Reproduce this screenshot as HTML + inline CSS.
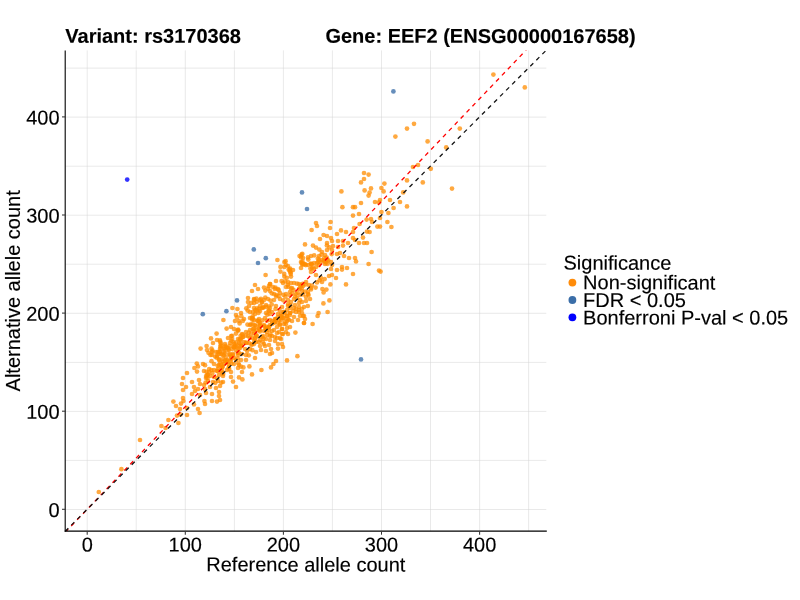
<!DOCTYPE html>
<html lang="en"><head><meta charset="utf-8"><title>Allelic imbalance: rs3170368 / EEF2</title>
<style>html,body{margin:0;padding:0;background:#fff;}body{width:800px;height:600px;overflow:hidden;}svg{display:block;}text{font-family:"Liberation Sans", Arial, Helvetica, sans-serif;font-size:20px;fill:#000;stroke:#000;stroke-width:0.15px;}.tk{fill:#000;}.b{font-weight:bold;}.g line{stroke:#d6d6d6;stroke-width:0.53;}.o circle{fill:#ff8c00;fill-opacity:0.75;}.s circle{fill:#3b6ea8;fill-opacity:0.78;}.bb circle{fill:#0000ff;fill-opacity:0.8;}</style></head><body>
<svg width="800" height="600" viewBox="0 0 800 600">
<rect width="800" height="600" fill="#fff"/>
<defs><clipPath id="pc"><rect x="65.3" y="50.4" width="481.0" height="480.9"/></clipPath></defs>
<g class="g">
<line x1="87.2" y1="50.4" x2="87.2" y2="531.3"/>
<line x1="65.3" y1="509.5" x2="546.3" y2="509.5"/>
<line x1="136.2" y1="50.4" x2="136.2" y2="531.3"/>
<line x1="65.3" y1="460.4" x2="546.3" y2="460.4"/>
<line x1="185.3" y1="50.4" x2="185.3" y2="531.3"/>
<line x1="65.3" y1="411.4" x2="546.3" y2="411.4"/>
<line x1="234.4" y1="50.4" x2="234.4" y2="531.3"/>
<line x1="65.3" y1="362.4" x2="546.3" y2="362.4"/>
<line x1="283.4" y1="50.4" x2="283.4" y2="531.3"/>
<line x1="65.3" y1="313.3" x2="546.3" y2="313.3"/>
<line x1="332.4" y1="50.4" x2="332.4" y2="531.3"/>
<line x1="65.3" y1="264.2" x2="546.3" y2="264.2"/>
<line x1="381.5" y1="50.4" x2="381.5" y2="531.3"/>
<line x1="65.3" y1="215.2" x2="546.3" y2="215.2"/>
<line x1="430.5" y1="50.4" x2="430.5" y2="531.3"/>
<line x1="65.3" y1="166.2" x2="546.3" y2="166.2"/>
<line x1="479.6" y1="50.4" x2="479.6" y2="531.3"/>
<line x1="65.3" y1="117.1" x2="546.3" y2="117.1"/>
<line x1="528.6" y1="50.4" x2="528.6" y2="531.3"/>
<line x1="65.3" y1="68.1" x2="546.3" y2="68.1"/>
</g>
<g clip-path="url(#pc)">
<g class="o">
<circle cx="493.4" cy="74.6" r="2.35"/>
<circle cx="524.8" cy="87.4" r="2.35"/>
<circle cx="414.0" cy="123.8" r="2.35"/>
<circle cx="407.0" cy="128.6" r="2.35"/>
<circle cx="395.4" cy="136.6" r="2.35"/>
<circle cx="427.6" cy="141.4" r="2.35"/>
<circle cx="459.8" cy="128.6" r="2.35"/>
<circle cx="446.2" cy="147.4" r="2.35"/>
<circle cx="255.0" cy="285.0" r="2.35"/>
<circle cx="270.0" cy="284.0" r="2.35"/>
<circle cx="276.0" cy="281.0" r="2.35"/>
<circle cx="283.0" cy="283.0" r="2.35"/>
<circle cx="288.0" cy="282.0" r="2.35"/>
<circle cx="294.0" cy="283.0" r="2.35"/>
<circle cx="299.0" cy="284.0" r="2.35"/>
<circle cx="306.0" cy="282.0" r="2.35"/>
<circle cx="273.0" cy="287.0" r="2.35"/>
<circle cx="278.0" cy="289.0" r="2.35"/>
<circle cx="286.0" cy="287.0" r="2.35"/>
<circle cx="292.0" cy="288.0" r="2.35"/>
<circle cx="299.0" cy="289.0" r="2.35"/>
<circle cx="252.0" cy="291.0" r="2.35"/>
<circle cx="258.0" cy="289.0" r="2.35"/>
<circle cx="264.0" cy="287.6" r="2.35"/>
<circle cx="270.0" cy="291.0" r="2.35"/>
<circle cx="274.0" cy="294.0" r="2.35"/>
<circle cx="280.0" cy="293.0" r="2.35"/>
<circle cx="286.0" cy="294.0" r="2.35"/>
<circle cx="290.0" cy="292.0" r="2.35"/>
<circle cx="296.0" cy="294.0" r="2.35"/>
<circle cx="302.0" cy="291.0" r="2.35"/>
<circle cx="308.0" cy="294.0" r="2.35"/>
<circle cx="248.0" cy="298.0" r="2.35"/>
<circle cx="254.0" cy="299.0" r="2.35"/>
<circle cx="260.0" cy="300.0" r="2.35"/>
<circle cx="248.0" cy="302.0" r="2.35"/>
<circle cx="254.0" cy="303.0" r="2.35"/>
<circle cx="262.0" cy="302.0" r="2.35"/>
<circle cx="268.0" cy="299.0" r="2.35"/>
<circle cx="274.0" cy="300.0" r="2.35"/>
<circle cx="280.0" cy="299.0" r="2.35"/>
<circle cx="288.0" cy="300.0" r="2.35"/>
<circle cx="294.0" cy="299.0" r="2.35"/>
<circle cx="300.0" cy="300.0" r="2.35"/>
<circle cx="306.0" cy="301.0" r="2.35"/>
<circle cx="232.4" cy="308.0" r="2.35"/>
<circle cx="237.4" cy="309.0" r="2.35"/>
<circle cx="249.0" cy="306.0" r="2.35"/>
<circle cx="254.0" cy="308.0" r="2.35"/>
<circle cx="260.0" cy="306.0" r="2.35"/>
<circle cx="266.0" cy="305.0" r="2.35"/>
<circle cx="270.0" cy="308.0" r="2.35"/>
<circle cx="276.0" cy="306.0" r="2.35"/>
<circle cx="282.0" cy="307.0" r="2.35"/>
<circle cx="288.0" cy="306.0" r="2.35"/>
<circle cx="294.0" cy="308.0" r="2.35"/>
<circle cx="299.0" cy="310.0" r="2.35"/>
<circle cx="304.0" cy="307.0" r="2.35"/>
<circle cx="236.0" cy="315.0" r="2.35"/>
<circle cx="241.0" cy="313.0" r="2.35"/>
<circle cx="250.0" cy="312.0" r="2.35"/>
<circle cx="255.0" cy="314.0" r="2.35"/>
<circle cx="260.0" cy="311.0" r="2.35"/>
<circle cx="266.0" cy="313.0" r="2.35"/>
<circle cx="272.0" cy="312.0" r="2.35"/>
<circle cx="278.0" cy="314.0" r="2.35"/>
<circle cx="283.0" cy="312.0" r="2.35"/>
<circle cx="290.0" cy="313.0" r="2.35"/>
<circle cx="296.0" cy="312.0" r="2.35"/>
<circle cx="302.0" cy="313.0" r="2.35"/>
<circle cx="304.0" cy="316.0" r="2.35"/>
<circle cx="223.4" cy="320.0" r="2.35"/>
<circle cx="235.0" cy="321.0" r="2.35"/>
<circle cx="239.0" cy="321.0" r="2.35"/>
<circle cx="244.0" cy="319.0" r="2.35"/>
<circle cx="250.0" cy="318.0" r="2.35"/>
<circle cx="254.0" cy="320.0" r="2.35"/>
<circle cx="259.0" cy="319.0" r="2.35"/>
<circle cx="265.0" cy="318.0" r="2.35"/>
<circle cx="270.0" cy="320.0" r="2.35"/>
<circle cx="276.0" cy="319.0" r="2.35"/>
<circle cx="281.0" cy="318.0" r="2.35"/>
<circle cx="288.0" cy="319.0" r="2.35"/>
<circle cx="292.0" cy="321.0" r="2.35"/>
<circle cx="298.0" cy="320.0" r="2.35"/>
<circle cx="304.0" cy="323.0" r="2.35"/>
<circle cx="231.0" cy="327.0" r="2.35"/>
<circle cx="226.6" cy="328.6" r="2.35"/>
<circle cx="234.0" cy="329.0" r="2.35"/>
<circle cx="250.0" cy="325.0" r="2.35"/>
<circle cx="255.0" cy="325.0" r="2.35"/>
<circle cx="260.0" cy="323.0" r="2.35"/>
<circle cx="264.0" cy="326.0" r="2.35"/>
<circle cx="270.0" cy="325.0" r="2.35"/>
<circle cx="274.0" cy="323.0" r="2.35"/>
<circle cx="280.0" cy="325.0" r="2.35"/>
<circle cx="286.0" cy="324.0" r="2.35"/>
<circle cx="290.0" cy="327.0" r="2.35"/>
<circle cx="282.0" cy="329.0" r="2.35"/>
<circle cx="216.6" cy="333.6" r="2.35"/>
<circle cx="236.0" cy="333.6" r="2.35"/>
<circle cx="242.0" cy="334.0" r="2.35"/>
<circle cx="246.0" cy="332.0" r="2.35"/>
<circle cx="250.0" cy="330.0" r="2.35"/>
<circle cx="254.0" cy="331.0" r="2.35"/>
<circle cx="259.0" cy="329.0" r="2.35"/>
<circle cx="264.0" cy="331.0" r="2.35"/>
<circle cx="269.0" cy="330.0" r="2.35"/>
<circle cx="274.0" cy="330.0" r="2.35"/>
<circle cx="279.0" cy="332.0" r="2.35"/>
<circle cx="283.0" cy="334.0" r="2.35"/>
<circle cx="288.0" cy="334.0" r="2.35"/>
<circle cx="295.4" cy="332.6" r="2.35"/>
<circle cx="211.0" cy="338.4" r="2.35"/>
<circle cx="217.0" cy="340.0" r="2.35"/>
<circle cx="220.0" cy="340.4" r="2.35"/>
<circle cx="228.0" cy="338.0" r="2.35"/>
<circle cx="232.0" cy="339.0" r="2.35"/>
<circle cx="238.0" cy="339.0" r="2.35"/>
<circle cx="243.0" cy="337.0" r="2.35"/>
<circle cx="248.0" cy="336.0" r="2.35"/>
<circle cx="252.0" cy="338.0" r="2.35"/>
<circle cx="257.0" cy="336.0" r="2.35"/>
<circle cx="262.0" cy="337.0" r="2.35"/>
<circle cx="267.0" cy="335.0" r="2.35"/>
<circle cx="272.0" cy="336.0" r="2.35"/>
<circle cx="277.0" cy="338.0" r="2.35"/>
<circle cx="281.0" cy="339.0" r="2.35"/>
<circle cx="270.0" cy="340.0" r="2.35"/>
<circle cx="213.0" cy="343.0" r="2.35"/>
<circle cx="206.6" cy="346.0" r="2.35"/>
<circle cx="225.0" cy="344.0" r="2.35"/>
<circle cx="230.0" cy="343.0" r="2.35"/>
<circle cx="234.0" cy="344.0" r="2.35"/>
<circle cx="239.0" cy="343.0" r="2.35"/>
<circle cx="244.0" cy="342.0" r="2.35"/>
<circle cx="249.0" cy="343.0" r="2.35"/>
<circle cx="254.0" cy="344.0" r="2.35"/>
<circle cx="259.0" cy="342.0" r="2.35"/>
<circle cx="264.0" cy="344.0" r="2.35"/>
<circle cx="269.0" cy="345.0" r="2.35"/>
<circle cx="275.0" cy="341.0" r="2.35"/>
<circle cx="278.0" cy="344.0" r="2.35"/>
<circle cx="282.0" cy="344.0" r="2.35"/>
<circle cx="283.0" cy="347.0" r="2.35"/>
<circle cx="265.0" cy="346.0" r="2.35"/>
<circle cx="260.0" cy="346.0" r="2.35"/>
<circle cx="200.6" cy="348.6" r="2.35"/>
<circle cx="207.0" cy="350.0" r="2.35"/>
<circle cx="212.0" cy="352.0" r="2.35"/>
<circle cx="216.0" cy="352.0" r="2.35"/>
<circle cx="220.0" cy="349.0" r="2.35"/>
<circle cx="224.0" cy="349.0" r="2.35"/>
<circle cx="228.0" cy="348.0" r="2.35"/>
<circle cx="232.0" cy="349.0" r="2.35"/>
<circle cx="236.0" cy="350.0" r="2.35"/>
<circle cx="240.0" cy="348.0" r="2.35"/>
<circle cx="245.0" cy="349.0" r="2.35"/>
<circle cx="250.0" cy="349.0" r="2.35"/>
<circle cx="256.0" cy="352.0" r="2.35"/>
<circle cx="261.0" cy="350.0" r="2.35"/>
<circle cx="266.0" cy="351.0" r="2.35"/>
<circle cx="271.0" cy="349.0" r="2.35"/>
<circle cx="272.0" cy="353.0" r="2.35"/>
<circle cx="278.0" cy="348.6" r="2.35"/>
<circle cx="212.0" cy="355.0" r="2.35"/>
<circle cx="217.0" cy="356.0" r="2.35"/>
<circle cx="221.0" cy="354.0" r="2.35"/>
<circle cx="225.0" cy="353.0" r="2.35"/>
<circle cx="229.0" cy="354.0" r="2.35"/>
<circle cx="233.0" cy="355.0" r="2.35"/>
<circle cx="238.0" cy="355.0" r="2.35"/>
<circle cx="242.0" cy="354.0" r="2.35"/>
<circle cx="246.0" cy="355.0" r="2.35"/>
<circle cx="255.0" cy="358.0" r="2.35"/>
<circle cx="297.4" cy="356.2" r="2.35"/>
<circle cx="270.0" cy="354.0" r="2.35"/>
<circle cx="219.0" cy="360.0" r="2.35"/>
<circle cx="223.0" cy="359.0" r="2.35"/>
<circle cx="227.0" cy="360.0" r="2.35"/>
<circle cx="231.0" cy="359.0" r="2.35"/>
<circle cx="236.0" cy="360.0" r="2.35"/>
<circle cx="241.0" cy="360.0" r="2.35"/>
<circle cx="246.0" cy="360.0" r="2.35"/>
<circle cx="287.0" cy="360.4" r="2.35"/>
<circle cx="276.0" cy="361.0" r="2.35"/>
<circle cx="273.4" cy="364.0" r="2.35"/>
<circle cx="271.0" cy="367.4" r="2.35"/>
<circle cx="203.0" cy="364.0" r="2.35"/>
<circle cx="198.0" cy="366.4" r="2.35"/>
<circle cx="194.4" cy="368.0" r="2.35"/>
<circle cx="197.0" cy="371.6" r="2.35"/>
<circle cx="214.0" cy="364.0" r="2.35"/>
<circle cx="219.0" cy="365.0" r="2.35"/>
<circle cx="224.0" cy="364.0" r="2.35"/>
<circle cx="229.0" cy="365.0" r="2.35"/>
<circle cx="234.0" cy="364.0" r="2.35"/>
<circle cx="239.0" cy="365.0" r="2.35"/>
<circle cx="238.0" cy="368.0" r="2.35"/>
<circle cx="243.4" cy="367.4" r="2.35"/>
<circle cx="249.4" cy="366.4" r="2.35"/>
<circle cx="261.4" cy="370.0" r="2.35"/>
<circle cx="187.0" cy="373.0" r="2.35"/>
<circle cx="204.0" cy="371.0" r="2.35"/>
<circle cx="209.0" cy="372.0" r="2.35"/>
<circle cx="214.0" cy="370.0" r="2.35"/>
<circle cx="218.0" cy="369.0" r="2.35"/>
<circle cx="222.0" cy="371.0" r="2.35"/>
<circle cx="227.0" cy="370.0" r="2.35"/>
<circle cx="231.0" cy="372.0" r="2.35"/>
<circle cx="242.0" cy="372.0" r="2.35"/>
<circle cx="252.0" cy="374.4" r="2.35"/>
<circle cx="183.0" cy="378.0" r="2.35"/>
<circle cx="199.0" cy="380.0" r="2.35"/>
<circle cx="206.0" cy="378.0" r="2.35"/>
<circle cx="210.0" cy="376.0" r="2.35"/>
<circle cx="214.0" cy="377.0" r="2.35"/>
<circle cx="219.0" cy="375.0" r="2.35"/>
<circle cx="223.0" cy="376.0" r="2.35"/>
<circle cx="231.0" cy="377.0" r="2.35"/>
<circle cx="239.0" cy="377.4" r="2.35"/>
<circle cx="242.4" cy="379.4" r="2.35"/>
<circle cx="182.0" cy="384.0" r="2.35"/>
<circle cx="192.0" cy="382.0" r="2.35"/>
<circle cx="194.0" cy="387.0" r="2.35"/>
<circle cx="186.0" cy="387.0" r="2.35"/>
<circle cx="200.0" cy="384.0" r="2.35"/>
<circle cx="204.0" cy="385.0" r="2.35"/>
<circle cx="208.0" cy="381.0" r="2.35"/>
<circle cx="213.0" cy="382.0" r="2.35"/>
<circle cx="218.0" cy="381.0" r="2.35"/>
<circle cx="223.0" cy="382.0" r="2.35"/>
<circle cx="233.0" cy="381.6" r="2.35"/>
<circle cx="236.0" cy="387.0" r="2.35"/>
<circle cx="183.0" cy="390.0" r="2.35"/>
<circle cx="195.0" cy="391.0" r="2.35"/>
<circle cx="198.0" cy="389.0" r="2.35"/>
<circle cx="205.0" cy="389.0" r="2.35"/>
<circle cx="210.0" cy="387.0" r="2.35"/>
<circle cx="216.0" cy="388.0" r="2.35"/>
<circle cx="220.0" cy="386.0" r="2.35"/>
<circle cx="219.0" cy="392.0" r="2.35"/>
<circle cx="183.0" cy="398.0" r="2.35"/>
<circle cx="192.0" cy="394.0" r="2.35"/>
<circle cx="200.0" cy="395.0" r="2.35"/>
<circle cx="206.0" cy="393.0" r="2.35"/>
<circle cx="212.0" cy="394.0" r="2.35"/>
<circle cx="219.0" cy="396.0" r="2.35"/>
<circle cx="452.0" cy="188.6" r="2.35"/>
<circle cx="430.8" cy="168.8" r="2.35"/>
<circle cx="422.8" cy="182.4" r="2.35"/>
<circle cx="418.0" cy="165.0" r="2.35"/>
<circle cx="413.0" cy="167.0" r="2.35"/>
<circle cx="407.0" cy="180.4" r="2.35"/>
<circle cx="403.2" cy="192.4" r="2.35"/>
<circle cx="400.0" cy="202.0" r="2.35"/>
<circle cx="407.0" cy="206.4" r="2.35"/>
<circle cx="393.6" cy="208.0" r="2.35"/>
<circle cx="390.0" cy="200.0" r="2.35"/>
<circle cx="384.4" cy="183.6" r="2.35"/>
<circle cx="381.4" cy="188.0" r="2.35"/>
<circle cx="383.6" cy="191.4" r="2.35"/>
<circle cx="380.0" cy="200.0" r="2.35"/>
<circle cx="375.0" cy="202.0" r="2.35"/>
<circle cx="379.0" cy="202.4" r="2.35"/>
<circle cx="388.4" cy="213.0" r="2.35"/>
<circle cx="381.4" cy="212.0" r="2.35"/>
<circle cx="380.0" cy="218.0" r="2.35"/>
<circle cx="387.4" cy="222.0" r="2.35"/>
<circle cx="391.4" cy="227.0" r="2.35"/>
<circle cx="380.0" cy="226.6" r="2.35"/>
<circle cx="377.4" cy="226.6" r="2.35"/>
<circle cx="371.0" cy="219.0" r="2.35"/>
<circle cx="366.6" cy="219.6" r="2.35"/>
<circle cx="372.0" cy="222.0" r="2.35"/>
<circle cx="364.0" cy="173.0" r="2.35"/>
<circle cx="368.6" cy="174.6" r="2.35"/>
<circle cx="364.0" cy="179.0" r="2.35"/>
<circle cx="361.0" cy="182.4" r="2.35"/>
<circle cx="371.0" cy="188.4" r="2.35"/>
<circle cx="364.6" cy="190.4" r="2.35"/>
<circle cx="369.6" cy="192.6" r="2.35"/>
<circle cx="368.6" cy="195.6" r="2.35"/>
<circle cx="361.0" cy="203.0" r="2.35"/>
<circle cx="341.4" cy="191.4" r="2.35"/>
<circle cx="342.4" cy="207.2" r="2.35"/>
<circle cx="353.0" cy="207.2" r="2.35"/>
<circle cx="355.0" cy="207.2" r="2.35"/>
<circle cx="359.0" cy="214.0" r="2.35"/>
<circle cx="353.0" cy="215.6" r="2.35"/>
<circle cx="330.6" cy="222.0" r="2.35"/>
<circle cx="316.0" cy="223.0" r="2.35"/>
<circle cx="317.0" cy="226.0" r="2.35"/>
<circle cx="330.0" cy="228.0" r="2.35"/>
<circle cx="311.6" cy="230.0" r="2.35"/>
<circle cx="341.0" cy="230.4" r="2.35"/>
<circle cx="346.0" cy="232.0" r="2.35"/>
<circle cx="337.0" cy="234.0" r="2.35"/>
<circle cx="354.0" cy="228.0" r="2.35"/>
<circle cx="359.6" cy="224.0" r="2.35"/>
<circle cx="353.0" cy="232.0" r="2.35"/>
<circle cx="369.6" cy="232.0" r="2.35"/>
<circle cx="367.0" cy="231.6" r="2.35"/>
<circle cx="323.6" cy="235.0" r="2.35"/>
<circle cx="327.0" cy="236.0" r="2.35"/>
<circle cx="331.0" cy="238.0" r="2.35"/>
<circle cx="320.0" cy="239.0" r="2.35"/>
<circle cx="353.0" cy="238.0" r="2.35"/>
<circle cx="355.0" cy="240.0" r="2.35"/>
<circle cx="363.0" cy="237.6" r="2.35"/>
<circle cx="359.0" cy="243.0" r="2.35"/>
<circle cx="364.0" cy="243.0" r="2.35"/>
<circle cx="367.0" cy="243.0" r="2.35"/>
<circle cx="332.0" cy="241.0" r="2.35"/>
<circle cx="338.0" cy="241.0" r="2.35"/>
<circle cx="343.0" cy="241.0" r="2.35"/>
<circle cx="348.0" cy="243.0" r="2.35"/>
<circle cx="327.0" cy="243.0" r="2.35"/>
<circle cx="313.0" cy="245.6" r="2.35"/>
<circle cx="316.0" cy="247.6" r="2.35"/>
<circle cx="333.0" cy="246.0" r="2.35"/>
<circle cx="338.0" cy="247.0" r="2.35"/>
<circle cx="343.0" cy="245.6" r="2.35"/>
<circle cx="327.0" cy="250.0" r="2.35"/>
<circle cx="322.0" cy="252.0" r="2.35"/>
<circle cx="325.0" cy="255.0" r="2.35"/>
<circle cx="332.0" cy="250.0" r="2.35"/>
<circle cx="337.0" cy="254.0" r="2.35"/>
<circle cx="340.0" cy="253.0" r="2.35"/>
<circle cx="344.0" cy="256.0" r="2.35"/>
<circle cx="349.0" cy="258.0" r="2.35"/>
<circle cx="355.0" cy="258.0" r="2.35"/>
<circle cx="356.0" cy="261.4" r="2.35"/>
<circle cx="371.6" cy="252.0" r="2.35"/>
<circle cx="368.6" cy="264.0" r="2.35"/>
<circle cx="379.0" cy="270.6" r="2.35"/>
<circle cx="380.6" cy="271.6" r="2.35"/>
<circle cx="311.0" cy="256.0" r="2.35"/>
<circle cx="319.0" cy="256.0" r="2.35"/>
<circle cx="314.0" cy="263.0" r="2.35"/>
<circle cx="318.0" cy="262.0" r="2.35"/>
<circle cx="322.0" cy="260.0" r="2.35"/>
<circle cx="327.0" cy="260.0" r="2.35"/>
<circle cx="331.0" cy="262.0" r="2.35"/>
<circle cx="312.0" cy="268.0" r="2.35"/>
<circle cx="316.0" cy="267.0" r="2.35"/>
<circle cx="325.0" cy="264.0" r="2.35"/>
<circle cx="332.0" cy="265.0" r="2.35"/>
<circle cx="337.0" cy="270.0" r="2.35"/>
<circle cx="342.0" cy="267.0" r="2.35"/>
<circle cx="342.0" cy="269.6" r="2.35"/>
<circle cx="347.0" cy="268.0" r="2.35"/>
<circle cx="353.0" cy="274.0" r="2.35"/>
<circle cx="311.0" cy="272.0" r="2.35"/>
<circle cx="316.0" cy="275.0" r="2.35"/>
<circle cx="321.0" cy="278.0" r="2.35"/>
<circle cx="329.0" cy="276.0" r="2.35"/>
<circle cx="332.0" cy="275.0" r="2.35"/>
<circle cx="336.0" cy="278.0" r="2.35"/>
<circle cx="331.0" cy="269.0" r="2.35"/>
<circle cx="346.0" cy="284.4" r="2.35"/>
<circle cx="330.4" cy="284.4" r="2.35"/>
<circle cx="322.0" cy="282.0" r="2.35"/>
<circle cx="317.0" cy="282.4" r="2.35"/>
<circle cx="311.0" cy="288.0" r="2.35"/>
<circle cx="315.6" cy="287.6" r="2.35"/>
<circle cx="322.4" cy="289.0" r="2.35"/>
<circle cx="326.4" cy="289.6" r="2.35"/>
<circle cx="323.6" cy="292.4" r="2.35"/>
<circle cx="329.4" cy="300.4" r="2.35"/>
<circle cx="323.4" cy="303.4" r="2.35"/>
<circle cx="310.0" cy="299.0" r="2.35"/>
<circle cx="327.6" cy="312.0" r="2.35"/>
<circle cx="318.6" cy="313.0" r="2.35"/>
<circle cx="317.6" cy="316.0" r="2.35"/>
<circle cx="312.6" cy="324.0" r="2.35"/>
<circle cx="305.0" cy="244.4" r="2.35"/>
<circle cx="277.4" cy="260.0" r="2.35"/>
<circle cx="284.4" cy="262.0" r="2.35"/>
<circle cx="286.0" cy="265.0" r="2.35"/>
<circle cx="288.0" cy="266.0" r="2.35"/>
<circle cx="284.4" cy="267.0" r="2.35"/>
<circle cx="301.0" cy="257.4" r="2.35"/>
<circle cx="303.0" cy="258.0" r="2.35"/>
<circle cx="308.0" cy="257.4" r="2.35"/>
<circle cx="301.0" cy="262.0" r="2.35"/>
<circle cx="305.0" cy="264.0" r="2.35"/>
<circle cx="308.0" cy="265.0" r="2.35"/>
<circle cx="301.0" cy="268.0" r="2.35"/>
<circle cx="293.0" cy="270.0" r="2.35"/>
<circle cx="290.0" cy="271.6" r="2.35"/>
<circle cx="280.4" cy="271.6" r="2.35"/>
<circle cx="265.6" cy="275.0" r="2.35"/>
<circle cx="284.4" cy="276.6" r="2.35"/>
<circle cx="291.0" cy="276.6" r="2.35"/>
<circle cx="98.8" cy="492.0" r="2.35"/>
<circle cx="121.4" cy="469.2" r="2.35"/>
<circle cx="140.0" cy="440.0" r="2.35"/>
<circle cx="161.4" cy="426.0" r="2.35"/>
<circle cx="165.6" cy="428.0" r="2.35"/>
<circle cx="168.4" cy="420.0" r="2.35"/>
<circle cx="178.4" cy="423.0" r="2.35"/>
<circle cx="177.0" cy="415.6" r="2.35"/>
<circle cx="180.6" cy="414.6" r="2.35"/>
<circle cx="187.0" cy="415.0" r="2.35"/>
<circle cx="199.6" cy="413.0" r="2.35"/>
<circle cx="198.0" cy="409.0" r="2.35"/>
<circle cx="194.0" cy="404.4" r="2.35"/>
<circle cx="187.0" cy="408.0" r="2.35"/>
<circle cx="180.0" cy="409.0" r="2.35"/>
<circle cx="176.0" cy="406.0" r="2.35"/>
<circle cx="173.4" cy="401.6" r="2.35"/>
<circle cx="181.0" cy="403.6" r="2.35"/>
<circle cx="183.4" cy="401.0" r="2.35"/>
<circle cx="205.0" cy="404.0" r="2.35"/>
<circle cx="204.4" cy="401.0" r="2.35"/>
<circle cx="212.0" cy="401.0" r="2.35"/>
<circle cx="217.0" cy="401.6" r="2.35"/>
<circle cx="220.0" cy="400.0" r="2.35"/>
<circle cx="268.9" cy="286.2" r="2.35"/>
<circle cx="281.6" cy="281.1" r="2.35"/>
<circle cx="285.1" cy="281.3" r="2.35"/>
<circle cx="291.0" cy="283.1" r="2.35"/>
<circle cx="297.0" cy="283.7" r="2.35"/>
<circle cx="301.2" cy="285.0" r="2.35"/>
<circle cx="302.6" cy="283.8" r="2.35"/>
<circle cx="274.9" cy="288.9" r="2.35"/>
<circle cx="270.1" cy="284.1" r="2.35"/>
<circle cx="275.4" cy="287.6" r="2.35"/>
<circle cx="288.3" cy="286.7" r="2.35"/>
<circle cx="287.8" cy="284.8" r="2.35"/>
<circle cx="293.5" cy="289.9" r="2.35"/>
<circle cx="297.6" cy="292.6" r="2.35"/>
<circle cx="265.4" cy="290.6" r="2.35"/>
<circle cx="268.1" cy="288.7" r="2.35"/>
<circle cx="271.8" cy="293.3" r="2.35"/>
<circle cx="276.4" cy="295.0" r="2.35"/>
<circle cx="278.7" cy="290.2" r="2.35"/>
<circle cx="278.7" cy="296.1" r="2.35"/>
<circle cx="283.3" cy="294.8" r="2.35"/>
<circle cx="291.0" cy="288.5" r="2.35"/>
<circle cx="290.1" cy="295.3" r="2.35"/>
<circle cx="292.1" cy="293.4" r="2.35"/>
<circle cx="301.6" cy="288.2" r="2.35"/>
<circle cx="256.4" cy="298.7" r="2.35"/>
<circle cx="256.8" cy="301.8" r="2.35"/>
<circle cx="261.8" cy="302.6" r="2.35"/>
<circle cx="251.4" cy="302.9" r="2.35"/>
<circle cx="254.3" cy="299.7" r="2.35"/>
<circle cx="264.0" cy="300.0" r="2.35"/>
<circle cx="260.9" cy="298.8" r="2.35"/>
<circle cx="265.3" cy="297.5" r="2.35"/>
<circle cx="276.2" cy="296.5" r="2.35"/>
<circle cx="270.5" cy="300.6" r="2.35"/>
<circle cx="283.3" cy="300.3" r="2.35"/>
<circle cx="285.5" cy="296.7" r="2.35"/>
<circle cx="295.2" cy="296.5" r="2.35"/>
<circle cx="246.3" cy="308.3" r="2.35"/>
<circle cx="257.1" cy="308.4" r="2.35"/>
<circle cx="255.2" cy="310.1" r="2.35"/>
<circle cx="263.5" cy="307.4" r="2.35"/>
<circle cx="261.9" cy="308.0" r="2.35"/>
<circle cx="262.9" cy="307.5" r="2.35"/>
<circle cx="268.7" cy="306.5" r="2.35"/>
<circle cx="266.2" cy="306.8" r="2.35"/>
<circle cx="271.7" cy="304.4" r="2.35"/>
<circle cx="275.5" cy="309.0" r="2.35"/>
<circle cx="279.5" cy="310.1" r="2.35"/>
<circle cx="290.4" cy="305.3" r="2.35"/>
<circle cx="237.2" cy="317.4" r="2.35"/>
<circle cx="241.3" cy="316.2" r="2.35"/>
<circle cx="247.7" cy="310.6" r="2.35"/>
<circle cx="253.0" cy="312.1" r="2.35"/>
<circle cx="252.7" cy="316.4" r="2.35"/>
<circle cx="258.4" cy="313.0" r="2.35"/>
<circle cx="256.6" cy="310.7" r="2.35"/>
<circle cx="259.0" cy="308.9" r="2.35"/>
<circle cx="269.0" cy="310.8" r="2.35"/>
<circle cx="268.7" cy="310.3" r="2.35"/>
<circle cx="269.7" cy="313.9" r="2.35"/>
<circle cx="280.8" cy="316.1" r="2.35"/>
<circle cx="285.2" cy="312.9" r="2.35"/>
<circle cx="239.6" cy="323.4" r="2.35"/>
<circle cx="242.8" cy="320.9" r="2.35"/>
<circle cx="252.5" cy="318.0" r="2.35"/>
<circle cx="252.4" cy="319.7" r="2.35"/>
<circle cx="257.9" cy="320.6" r="2.35"/>
<circle cx="252.1" cy="318.4" r="2.35"/>
<circle cx="259.0" cy="321.9" r="2.35"/>
<circle cx="257.4" cy="320.8" r="2.35"/>
<circle cx="267.4" cy="314.6" r="2.35"/>
<circle cx="266.9" cy="320.7" r="2.35"/>
<circle cx="272.1" cy="321.2" r="2.35"/>
<circle cx="274.5" cy="321.3" r="2.35"/>
<circle cx="282.2" cy="315.8" r="2.35"/>
<circle cx="238.1" cy="329.6" r="2.35"/>
<circle cx="247.5" cy="324.6" r="2.35"/>
<circle cx="252.8" cy="324.4" r="2.35"/>
<circle cx="250.9" cy="324.3" r="2.35"/>
<circle cx="262.3" cy="320.3" r="2.35"/>
<circle cx="259.8" cy="325.9" r="2.35"/>
<circle cx="265.9" cy="329.2" r="2.35"/>
<circle cx="260.3" cy="325.2" r="2.35"/>
<circle cx="268.7" cy="327.3" r="2.35"/>
<circle cx="275.6" cy="319.1" r="2.35"/>
<circle cx="238.3" cy="330.6" r="2.35"/>
<circle cx="237.5" cy="330.3" r="2.35"/>
<circle cx="242.5" cy="337.2" r="2.35"/>
<circle cx="240.6" cy="335.8" r="2.35"/>
<circle cx="248.7" cy="332.5" r="2.35"/>
<circle cx="245.8" cy="335.6" r="2.35"/>
<circle cx="253.0" cy="329.2" r="2.35"/>
<circle cx="253.9" cy="328.4" r="2.35"/>
<circle cx="256.8" cy="330.2" r="2.35"/>
<circle cx="254.5" cy="333.6" r="2.35"/>
<circle cx="259.9" cy="331.5" r="2.35"/>
<circle cx="256.2" cy="326.2" r="2.35"/>
<circle cx="265.7" cy="328.3" r="2.35"/>
<circle cx="266.8" cy="326.9" r="2.35"/>
<circle cx="220.0" cy="341.8" r="2.35"/>
<circle cx="231.2" cy="336.0" r="2.35"/>
<circle cx="232.0" cy="335.8" r="2.35"/>
<circle cx="233.6" cy="342.4" r="2.35"/>
<circle cx="236.1" cy="342.3" r="2.35"/>
<circle cx="240.9" cy="338.5" r="2.35"/>
<circle cx="239.7" cy="339.4" r="2.35"/>
<circle cx="242.6" cy="334.5" r="2.35"/>
<circle cx="249.7" cy="337.8" r="2.35"/>
<circle cx="251.2" cy="333.9" r="2.35"/>
<circle cx="254.3" cy="341.1" r="2.35"/>
<circle cx="255.5" cy="337.6" r="2.35"/>
<circle cx="255.1" cy="338.7" r="2.35"/>
<circle cx="263.5" cy="338.6" r="2.35"/>
<circle cx="270.4" cy="334.4" r="2.35"/>
<circle cx="221.0" cy="343.3" r="2.35"/>
<circle cx="221.4" cy="345.6" r="2.35"/>
<circle cx="231.2" cy="340.7" r="2.35"/>
<circle cx="230.0" cy="345.8" r="2.35"/>
<circle cx="234.2" cy="347.4" r="2.35"/>
<circle cx="233.8" cy="347.0" r="2.35"/>
<circle cx="241.7" cy="345.9" r="2.35"/>
<circle cx="237.1" cy="345.5" r="2.35"/>
<circle cx="240.5" cy="340.0" r="2.35"/>
<circle cx="240.5" cy="343.9" r="2.35"/>
<circle cx="245.7" cy="343.0" r="2.35"/>
<circle cx="246.8" cy="342.7" r="2.35"/>
<circle cx="251.6" cy="344.9" r="2.35"/>
<circle cx="262.8" cy="342.1" r="2.35"/>
<circle cx="208.5" cy="352.8" r="2.35"/>
<circle cx="211.5" cy="348.7" r="2.35"/>
<circle cx="210.5" cy="354.9" r="2.35"/>
<circle cx="212.5" cy="350.7" r="2.35"/>
<circle cx="218.6" cy="354.1" r="2.35"/>
<circle cx="220.0" cy="351.8" r="2.35"/>
<circle cx="220.4" cy="345.8" r="2.35"/>
<circle cx="220.6" cy="347.6" r="2.35"/>
<circle cx="226.6" cy="347.4" r="2.35"/>
<circle cx="225.6" cy="345.9" r="2.35"/>
<circle cx="224.4" cy="347.7" r="2.35"/>
<circle cx="228.9" cy="350.0" r="2.35"/>
<circle cx="228.0" cy="349.6" r="2.35"/>
<circle cx="234.8" cy="346.2" r="2.35"/>
<circle cx="238.5" cy="349.0" r="2.35"/>
<circle cx="236.2" cy="346.5" r="2.35"/>
<circle cx="241.3" cy="345.9" r="2.35"/>
<circle cx="247.2" cy="351.1" r="2.35"/>
<circle cx="252.4" cy="350.2" r="2.35"/>
<circle cx="215.2" cy="356.6" r="2.35"/>
<circle cx="217.8" cy="352.1" r="2.35"/>
<circle cx="219.1" cy="359.0" r="2.35"/>
<circle cx="219.7" cy="351.9" r="2.35"/>
<circle cx="224.1" cy="351.2" r="2.35"/>
<circle cx="225.8" cy="357.0" r="2.35"/>
<circle cx="222.5" cy="354.9" r="2.35"/>
<circle cx="232.9" cy="353.8" r="2.35"/>
<circle cx="230.6" cy="356.6" r="2.35"/>
<circle cx="230.1" cy="354.7" r="2.35"/>
<circle cx="233.9" cy="357.7" r="2.35"/>
<circle cx="237.6" cy="352.8" r="2.35"/>
<circle cx="239.1" cy="353.0" r="2.35"/>
<circle cx="248.8" cy="355.3" r="2.35"/>
<circle cx="216.7" cy="357.7" r="2.35"/>
<circle cx="222.8" cy="361.6" r="2.35"/>
<circle cx="224.0" cy="355.0" r="2.35"/>
<circle cx="225.2" cy="360.7" r="2.35"/>
<circle cx="230.6" cy="360.9" r="2.35"/>
<circle cx="226.7" cy="362.4" r="2.35"/>
<circle cx="227.4" cy="360.9" r="2.35"/>
<circle cx="232.1" cy="356.5" r="2.35"/>
<circle cx="238.4" cy="363.3" r="2.35"/>
<circle cx="237.7" cy="358.5" r="2.35"/>
<circle cx="205.0" cy="365.2" r="2.35"/>
<circle cx="196.8" cy="363.6" r="2.35"/>
<circle cx="217.7" cy="365.8" r="2.35"/>
<circle cx="211.5" cy="361.2" r="2.35"/>
<circle cx="222.4" cy="367.0" r="2.35"/>
<circle cx="222.6" cy="366.6" r="2.35"/>
<circle cx="221.2" cy="364.8" r="2.35"/>
<circle cx="220.2" cy="362.7" r="2.35"/>
<circle cx="228.7" cy="367.4" r="2.35"/>
<circle cx="231.4" cy="363.5" r="2.35"/>
<circle cx="240.9" cy="366.6" r="2.35"/>
<circle cx="206.5" cy="371.8" r="2.35"/>
<circle cx="207.9" cy="374.6" r="2.35"/>
<circle cx="209.2" cy="369.2" r="2.35"/>
<circle cx="211.4" cy="370.0" r="2.35"/>
<circle cx="216.7" cy="370.8" r="2.35"/>
<circle cx="218.0" cy="371.2" r="2.35"/>
<circle cx="221.6" cy="367.7" r="2.35"/>
<circle cx="223.2" cy="373.9" r="2.35"/>
<circle cx="229.2" cy="369.0" r="2.35"/>
<circle cx="207.3" cy="375.2" r="2.35"/>
<circle cx="206.1" cy="376.1" r="2.35"/>
<circle cx="207.5" cy="378.0" r="2.35"/>
<circle cx="212.4" cy="373.1" r="2.35"/>
<circle cx="216.9" cy="378.2" r="2.35"/>
<circle cx="222.1" cy="372.7" r="2.35"/>
<circle cx="205.6" cy="382.6" r="2.35"/>
<circle cx="215.3" cy="382.8" r="2.35"/>
<circle cx="221.3" cy="382.6" r="2.35"/>
<circle cx="326.9" cy="245.5" r="2.35"/>
<circle cx="319.3" cy="249.6" r="2.35"/>
<circle cx="329.4" cy="247.4" r="2.35"/>
<circle cx="321.5" cy="254.6" r="2.35"/>
<circle cx="324.2" cy="258.0" r="2.35"/>
<circle cx="326.7" cy="257.6" r="2.35"/>
<circle cx="331.7" cy="254.1" r="2.35"/>
<circle cx="314.2" cy="255.4" r="2.35"/>
<circle cx="319.1" cy="260.1" r="2.35"/>
<circle cx="317.9" cy="258.7" r="2.35"/>
<circle cx="317.0" cy="263.0" r="2.35"/>
<circle cx="310.8" cy="263.5" r="2.35"/>
<circle cx="319.0" cy="265.1" r="2.35"/>
<circle cx="320.7" cy="262.1" r="2.35"/>
<circle cx="324.5" cy="261.6" r="2.35"/>
<circle cx="324.2" cy="260.6" r="2.35"/>
<circle cx="326.1" cy="262.5" r="2.35"/>
<circle cx="328.2" cy="260.3" r="2.35"/>
<circle cx="312.0" cy="264.5" r="2.35"/>
<circle cx="311.2" cy="264.1" r="2.35"/>
<circle cx="313.8" cy="268.8" r="2.35"/>
<circle cx="327.5" cy="263.8" r="2.35"/>
<circle cx="310.4" cy="268.6" r="2.35"/>
<circle cx="324.7" cy="279.1" r="2.35"/>
<circle cx="319.7" cy="280.2" r="2.35"/>
<circle cx="285.6" cy="261.2" r="2.35"/>
<circle cx="290.1" cy="268.5" r="2.35"/>
<circle cx="280.5" cy="266.9" r="2.35"/>
<circle cx="302.3" cy="253.8" r="2.35"/>
<circle cx="299.6" cy="256.0" r="2.35"/>
<circle cx="301.5" cy="254.7" r="2.35"/>
<circle cx="308.3" cy="259.6" r="2.35"/>
<circle cx="303.0" cy="264.2" r="2.35"/>
<circle cx="304.1" cy="264.4" r="2.35"/>
<circle cx="301.8" cy="262.8" r="2.35"/>
<circle cx="302.5" cy="261.5" r="2.35"/>
<circle cx="305.8" cy="265.1" r="2.35"/>
<circle cx="302.1" cy="264.5" r="2.35"/>
<circle cx="289.7" cy="269.9" r="2.35"/>
<circle cx="288.7" cy="269.6" r="2.35"/>
<circle cx="284.2" cy="273.9" r="2.35"/>
<circle cx="286.8" cy="277.8" r="2.35"/>
<circle cx="290.7" cy="274.0" r="2.35"/>
<circle cx="290.7" cy="272.5" r="2.35"/>
<circle cx="309.0" cy="285.0" r="2.35"/>
<circle cx="305.5" cy="284.5" r="2.35"/>
<circle cx="303.0" cy="286.0" r="2.35"/>
<circle cx="300.0" cy="287.5" r="2.35"/>
<circle cx="312.0" cy="285.5" r="2.35"/>
<circle cx="311.0" cy="289.5" r="2.35"/>
<circle cx="308.0" cy="292.0" r="2.35"/>
<circle cx="305.0" cy="291.5" r="2.35"/>
<circle cx="303.0" cy="294.5" r="2.35"/>
<circle cx="300.0" cy="295.0" r="2.35"/>
<circle cx="306.0" cy="297.0" r="2.35"/>
<circle cx="308.5" cy="295.0" r="2.35"/>
<circle cx="307.8" cy="306.0" r="2.35"/>
<circle cx="302.0" cy="302.0" r="2.35"/>
<circle cx="299.0" cy="303.0" r="2.35"/>
<circle cx="297.0" cy="298.0" r="2.35"/>
<circle cx="295.0" cy="305.0" r="2.35"/>
<circle cx="299.0" cy="307.0" r="2.35"/>
<circle cx="302.0" cy="309.0" r="2.35"/>
<circle cx="296.0" cy="309.0" r="2.35"/>
<circle cx="299.0" cy="312.0" r="2.35"/>
<circle cx="293.0" cy="311.0" r="2.35"/>
<circle cx="290.0" cy="308.0" r="2.35"/>
<circle cx="290.0" cy="313.0" r="2.35"/>
<circle cx="294.0" cy="317.0" r="2.35"/>
<circle cx="300.0" cy="316.0" r="2.35"/>
<circle cx="303.0" cy="316.0" r="2.35"/>
<circle cx="305.0" cy="319.0" r="2.35"/>
<circle cx="304.0" cy="323.0" r="2.35"/>
<circle cx="287.0" cy="310.0" r="2.35"/>
<circle cx="284.0" cy="312.0" r="2.35"/>
<circle cx="287.0" cy="316.0" r="2.35"/>
<circle cx="284.0" cy="318.0" r="2.35"/>
<circle cx="281.0" cy="314.0" r="2.35"/>
<circle cx="281.0" cy="320.0" r="2.35"/>
<circle cx="287.0" cy="321.0" r="2.35"/>
<circle cx="278.0" cy="317.0" r="2.35"/>
<circle cx="278.0" cy="323.0" r="2.35"/>
<circle cx="275.0" cy="319.0" r="2.35"/>
<circle cx="272.0" cy="324.0" r="2.35"/>
<circle cx="284.0" cy="324.0" r="2.35"/>
<circle cx="291.0" cy="302.0" r="2.35"/>
<circle cx="288.0" cy="304.0" r="2.35"/>
<circle cx="275.0" cy="322.0" r="2.35"/>
<circle cx="280.0" cy="324.0" r="2.35"/>
<circle cx="285.0" cy="322.0" r="2.35"/>
<circle cx="289.0" cy="320.0" r="2.35"/>
<circle cx="277.0" cy="327.0" r="2.35"/>
<circle cx="282.0" cy="329.0" r="2.35"/>
<circle cx="287.0" cy="328.0" r="2.35"/>
<circle cx="272.0" cy="331.0" r="2.35"/>
<circle cx="277.0" cy="333.0" r="2.35"/>
<circle cx="282.0" cy="334.0" r="2.35"/>
<circle cx="286.0" cy="332.0" r="2.35"/>
<circle cx="267.0" cy="332.0" r="2.35"/>
<circle cx="270.0" cy="336.0" r="2.35"/>
<circle cx="275.0" cy="337.0" r="2.35"/>
<circle cx="280.0" cy="338.0" r="2.35"/>
<circle cx="263.0" cy="336.0" r="2.35"/>
<circle cx="266.0" cy="339.0" r="2.35"/>
<circle cx="260.0" cy="340.0" r="2.35"/>
<circle cx="256.0" cy="342.0" r="2.35"/>
<circle cx="252.0" cy="344.0" r="2.35"/>
<circle cx="264.0" cy="325.0" r="2.35"/>
<circle cx="269.0" cy="327.0" r="2.35"/>
<circle cx="260.0" cy="330.0" r="2.35"/>
<circle cx="256.0" cy="335.0" r="2.35"/>
<circle cx="290.0" cy="315.0" r="2.35"/>
<circle cx="287.0" cy="316.0" r="2.35"/>
<circle cx="283.0" cy="318.0" r="2.35"/>
<circle cx="279.0" cy="320.0" r="2.35"/>
</g><g class="s">
<circle cx="393.4" cy="91.4" r="2.35"/>
<circle cx="237.0" cy="300.4" r="2.35"/>
<circle cx="226.4" cy="311.2" r="2.35"/>
<circle cx="202.8" cy="314.2" r="2.35"/>
<circle cx="361.0" cy="359.4" r="2.35"/>
<circle cx="302.0" cy="192.4" r="2.35"/>
<circle cx="307.0" cy="209.0" r="2.35"/>
<circle cx="253.8" cy="249.4" r="2.35"/>
<circle cx="265.8" cy="258.2" r="2.35"/>
<circle cx="258.0" cy="263.0" r="2.35"/>
</g><g class="bb">
<circle cx="127.2" cy="179.6" r="2.35"/>
</g>
<line x1="65.30" y1="532.21" x2="546.30" y2="28.94" stroke="#ff0000" stroke-width="1.3" stroke-dasharray="4.27 4.27"/>
<line x1="65.30" y1="531.20" x2="546.30" y2="50.20" stroke="#141414" stroke-width="1.3" stroke-dasharray="4.27 4.27"/>
</g>
<line x1="65.2" y1="50.4" x2="65.2" y2="531.8" stroke="#000" stroke-width="1.1"/>
<line x1="64.7" y1="531.1" x2="546.8" y2="531.1" stroke="#000" stroke-width="1.2"/>
<line x1="87.2" y1="531.8" x2="87.2" y2="534.7" stroke="#333" stroke-width="1.05"/>
<line x1="62.0" y1="509.3" x2="65.1" y2="509.3" stroke="#333" stroke-width="1.05"/>
<text class="tk" transform="translate(87.2,551.55) rotate(0.05)" text-anchor="middle">0</text>
<text class="tk" transform="translate(59.6,516.95) rotate(0.05)" text-anchor="end">0</text>
<line x1="185.3" y1="531.8" x2="185.3" y2="534.7" stroke="#333" stroke-width="1.05"/>
<line x1="62.0" y1="411.2" x2="65.1" y2="411.2" stroke="#333" stroke-width="1.05"/>
<text class="tk" transform="translate(185.3,551.55) rotate(0.05)" text-anchor="middle">100</text>
<text class="tk" transform="translate(59.6,418.85) rotate(0.05)" text-anchor="end">100</text>
<line x1="283.4" y1="531.8" x2="283.4" y2="534.7" stroke="#333" stroke-width="1.05"/>
<line x1="62.0" y1="313.1" x2="65.1" y2="313.1" stroke="#333" stroke-width="1.05"/>
<text class="tk" transform="translate(283.4,551.55) rotate(0.05)" text-anchor="middle">200</text>
<text class="tk" transform="translate(59.6,320.75) rotate(0.05)" text-anchor="end">200</text>
<line x1="381.5" y1="531.8" x2="381.5" y2="534.7" stroke="#333" stroke-width="1.05"/>
<line x1="62.0" y1="215.0" x2="65.1" y2="215.0" stroke="#333" stroke-width="1.05"/>
<text class="tk" transform="translate(381.5,551.55) rotate(0.05)" text-anchor="middle">300</text>
<text class="tk" transform="translate(59.6,222.65) rotate(0.05)" text-anchor="end">300</text>
<line x1="479.6" y1="531.8" x2="479.6" y2="534.7" stroke="#333" stroke-width="1.05"/>
<line x1="62.0" y1="116.9" x2="65.1" y2="116.9" stroke="#333" stroke-width="1.05"/>
<text class="tk" transform="translate(479.6,551.55) rotate(0.05)" text-anchor="middle">400</text>
<text class="tk" transform="translate(59.6,124.55) rotate(0.05)" text-anchor="end">400</text>
<text class="b" transform="translate(65.3,42.75) rotate(0.05)">Variant: rs3170368</text>
<text class="b" transform="translate(325.4,42.75) rotate(0.05)">Gene: EEF2 (ENSG00000167658)</text>
<text transform="translate(305.8,571.4) rotate(0.05)" text-anchor="middle">Reference allele count</text>
<text transform="translate(20.1,290.85) rotate(-90)" text-anchor="middle">Alternative allele count</text>
<text transform="translate(563.5,269.6) rotate(0.05)">Significance</text>
<circle cx="572.4" cy="282.6" r="3.9" fill="#ff8c0a"/>
<text transform="translate(583.1,289.3) rotate(0.05)">Non-significant</text>
<circle cx="572.4" cy="300.0" r="3.9" fill="#3b6ea8"/>
<text transform="translate(583.1,307.0) rotate(0.05)">FDR &lt; 0.05</text>
<circle cx="572.4" cy="317.3" r="3.9" fill="#0000ff"/>
<text transform="translate(583.1,324.4) rotate(0.05)">Bonferroni P-val &lt; 0.05</text>
</svg></body></html>
